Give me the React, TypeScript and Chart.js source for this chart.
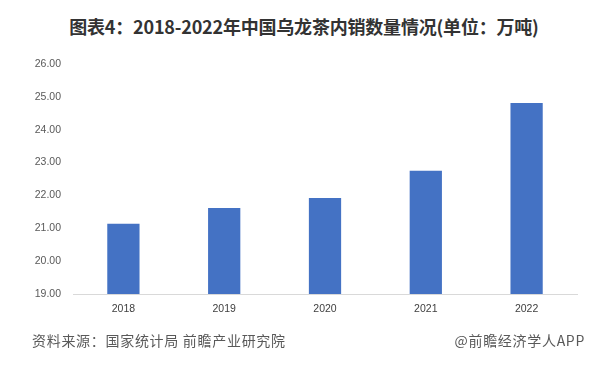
import React, { useEffect, useRef } from "react";
import { Chart, registerables } from "chart.js";

Chart.register(...registerables);

const categories = ["2018", "2019", "2020", "2021", "2022"];
const salesValues = [21.14, 21.62, 21.92, 22.75, 24.81];
const yMin = 19;
const yMax = 26;

const titleText = "图表4：2018-2022年中国乌龙茶内销数量情况(单位：万吨)";
const sourceText = "资料来源：国家统计局 前瞻产业研究院";
const brandText = "@前瞻经济学人APP";

export default function App() {
  const ref = useRef<HTMLCanvasElement>(null);
  useEffect(() => {
    document.body.style.margin = "0";
    const ctx = ref.current!.getContext("2d")!;
    const chart = new Chart(ctx, {
      type: "bar",
      data: {
        labels: categories,
        datasets: [
          {
            data: salesValues,
            backgroundColor: "#4472C4",
            barPercentage: 0.32,
            categoryPercentage: 1,
          },
        ],
      },
      options: {
        animation: false,
        responsive: false,
        layout: { padding: { top: 64, right: 21, bottom: 43, left: 0 } },
        plugins: { legend: { display: false }, tooltip: { enabled: false }, title: { display: false } },
        scales: {
          x: {
            grid: { display: false, drawTicks: false },
            border: { display: true, color: "#d9d9d9", width: 1 },
            ticks: { color: "#404040", font: { size: 10.5, family: "'Liberation Sans', Arial, sans-serif" }, padding: 9 },
            afterFit: (s: any) => { s.height = 30; },
          },
          y: {
            min: yMin,
            max: yMax,
            grid: { display: false, drawTicks: false },
            border: { display: false },
            ticks: {
              stepSize: 1,
              padding: 12,
              color: "#595959",
              font: { size: 10.5, family: "'Liberation Sans', Arial, sans-serif" },
              callback: (v: any) => Number(v).toFixed(2),
            },
            afterFit: (s: any) => { s.width = 73; },
          },
        },
      },
    });
    return () => chart.destroy();
  }, []);

  const footStyle: React.CSSProperties = {
    position: "absolute",
    top: 331,
    fontFamily: "'Noto Sans CJK SC', sans-serif",
    fontSize: 14,
    lineHeight: "18px",
    color: "#595959",
    whiteSpace: "nowrap",
    letterSpacing: 0.7,
  };

  return (
    <div style={{ position: "fixed", left: 0, top: 0, width: 598, height: 367, background: "#fff", overflow: "hidden" }}>
      <div
        style={{
          position: "absolute",
          left: 54,
          top: 14,
          width: 500,
          textAlign: "center",
          fontFamily: "'Noto Sans CJK SC', sans-serif",
          fontWeight: 700,
          fontSize: 18,
          lineHeight: "24px",
          color: "#333",
          whiteSpace: "nowrap",
          letterSpacing: -0.2,
        }}
      >
        {titleText}
      </div>
      <canvas ref={ref} width={598} height={367} style={{ position: "absolute", left: 0, top: 0 }} />
      <div style={{ ...footStyle, left: 32 }}>{sourceText}</div>
      <div style={{ ...footStyle, right: 13 }}>{brandText}</div>
    </div>
  );
}
